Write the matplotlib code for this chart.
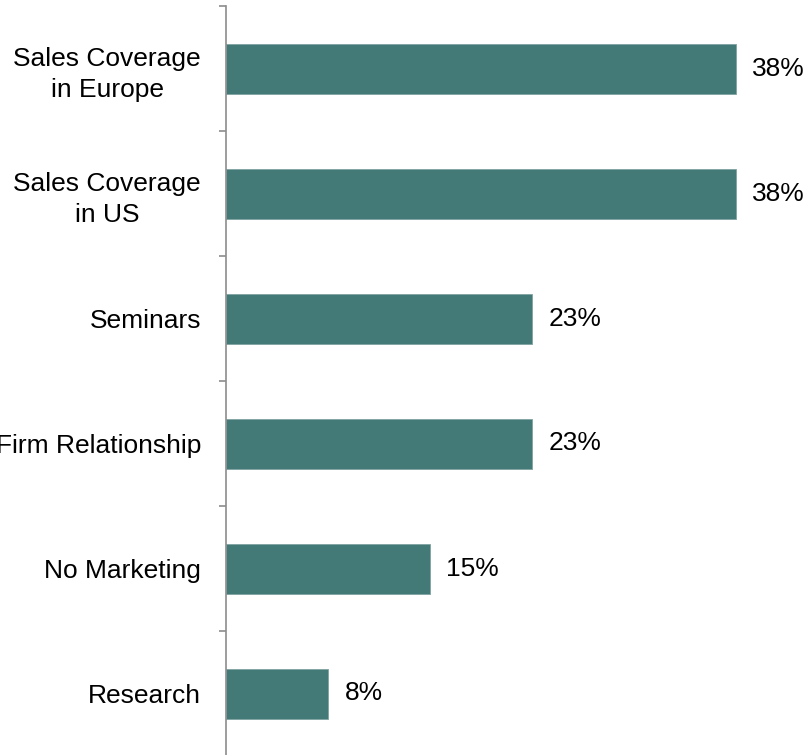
import matplotlib
matplotlib.use("Agg")
import matplotlib.pyplot as plt
import numpy as np

categories = ["Sales Coverage\nin Europe", "Sales Coverage\nin US", "Seminars",
              "Firm Relationship", "No Marketing", "Research"]
values = [38.46, 38.46, 23.08, 23.08, 15.38, 7.69]
value_labels = ["38%", "38%", "23%", "23%", "15%", "8%"]

plt.rcParams['font.family'] = ['Liberation Sans', 'DejaVu Sans']

W, H = 809, 755
fig = plt.figure(figsize=(W / 100, H / 100), dpi=100)
ax = fig.add_axes([226 / W, 1 - 756 / H, 583 / W, 750 / H])

n = len(categories)
y = np.arange(n)
color = "#437A78"
ax.barh(y, values, height=0.4, color=color, edgecolor="#7FA3A1", linewidth=0.6)
ax.set_ylim(n - 0.5, -0.5)
ax.set_xlim(0, 44)

for yi, v, lab in zip(y, values, value_labels):
    ax.annotate(lab, (v, yi), xytext=(12, 0), textcoords="offset points",
                va="center", ha="left", fontsize=19, color="#000000")

ax.set_yticks(y)
ax.set_yticklabels(categories, fontsize=19, multialignment="center", linespacing=1.37)
ax.tick_params(axis="y", which="major", length=0, pad=18)
ax.set_yticks(np.arange(-0.5, n, 1), minor=True)
ax.tick_params(axis="y", which="minor", length=5, width=1.2, color="#8C8C8C")
ax.set_xticks([])

for s in ["top", "right", "bottom"]:
    ax.spines[s].set_visible(False)
ax.spines["left"].set_color("#8C8C8C")
ax.spines["left"].set_linewidth(1.2)

fig.savefig("out.png", dpi=100)
